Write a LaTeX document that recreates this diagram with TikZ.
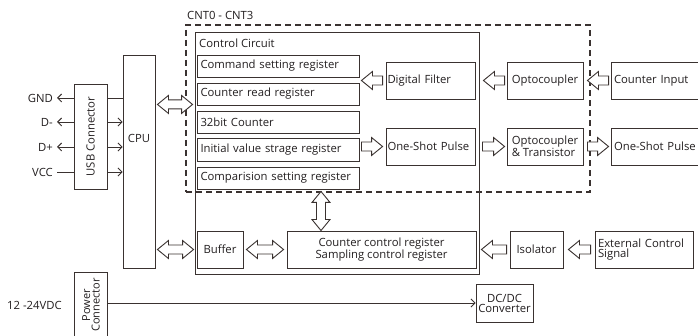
\documentclass[tikz,border=0pt]{standalone}
\usepackage{fontspec}
\setmainfont{Open Sans}
\usetikzlibrary{calc,arrows.meta}
\definecolor{lc}{RGB}{58,50,48}
\definecolor{tc}{RGB}{35,31,32}
\def\bahl{11pt}\def\bahw{9pt}\def\basw{4.5pt}
% single hollow arrow: #1 tip, #2 tail
\newcommand\sarr[2]{%
  \coordinate (hA) at #1; \coordinate (hB) at #2;
  \coordinate (hH) at ($(hA)!\bahl!(hB)$);
  \draw[blk] (hA) -- ($(hH)!\bahw!90:(hB)$) -- ($(hH)!\basw!90:(hB)$)
    -- ($(hB)!\basw!-90:(hA)$) -- ($(hB)!\basw!90:(hA)$)
    -- ($(hH)!\basw!-90:(hB)$) -- ($(hH)!\bahw!-90:(hB)$) -- cycle;}
% double hollow arrow between #1 and #2
\newcommand\darr[2]{%
  \coordinate (dA) at #1; \coordinate (dB) at #2;
  \coordinate (dH1) at ($(dA)!\bahl!(dB)$); \coordinate (dH2) at ($(dB)!\bahl!(dA)$);
  \draw[blk] (dA) -- ($(dH1)!\bahw!90:(dB)$) -- ($(dH1)!\basw!90:(dB)$)
    -- ($(dH2)!\basw!-90:(dA)$) -- ($(dH2)!\bahw!-90:(dA)$) -- (dB)
    -- ($(dH2)!\bahw!90:(dA)$) -- ($(dH2)!\basw!90:(dA)$)
    -- ($(dH1)!\basw!-90:(dB)$) -- ($(dH1)!\bahw!-90:(dB)$) -- cycle;}
\begin{document}
\begin{tikzpicture}[x=1pt,y=-1pt, font=\fontsize{11.3}{10}\selectfont, text=tc,
  bx/.style={draw=lc, line width=0.9pt, inner sep=0pt, minimum height=37pt},
  reg/.style={bx, minimum height=22pt, text width=155pt, inner xsep=3.5pt, align=left},
  blk/.style={draw=lc, line width=0.9pt, fill=white, line join=miter},
  wire/.style={draw=lc, line width=0.9pt},
  barb/.style={-{Straight Barb[length=4pt,width=8pt]}}]
\useasboundingbox (0,0) rectangle (698,336);
\clip (0,0) rectangle (698,336);
\fill[white] (0,0) rectangle (698,336);

% outer dashed group and control circuit
\node[draw=lc, line width=1.1pt, dash pattern=on 6pt off 4pt, minimum width=404pt, minimum height=167pt, inner sep=0pt] (grp) at (388,108.5) {};
\node[anchor=west, inner sep=0pt] (grplbl) at (187,15) {CNT0 - CNT3};
\node[bx, minimum width=284pt, minimum height=242pt] (ctrl) at (337,153) {};
\node[anchor=west, inner sep=0pt] (ctrllbl) at (199,43) {Control Circuit};

% registers
\node[reg] (cmd) at (278,66) {Command setting register};
\node[reg] (crd) at (278,94) {Counter read register};
\node[reg] (cnt) at (278,122) {32bit Counter};
\node[reg, minimum height=23pt] (ini) at (278,149.5) {Initial value strage register};
\node[reg] (cmp) at (278,178) {Comparision setting register};

% inner blocks
\node[bx, text width=86pt, inner xsep=1.5pt, align=left] (dfilt) at (430.5,80.5) {Digital Filter};
\node[bx, text width=86pt, inner xsep=1.5pt, align=left] (osp1) at (430.5,146.5) {One-Shot Pulse};
\node[bx, minimum width=76pt] (opto) at (545,80.5) {Optocoupler};
\node[bx, minimum width=76pt, align=left] (optr) at (545,146.5) {Optocoupler\\\& Transistor};
\node[bx, text width=88pt, inner xsep=3pt, align=left] (cin) at (658,80.5) {Counter Input};
\node[bx, text width=88pt, inner xsep=3pt, align=left] (osp2) at (658,146.5) {One-Shot Pulse};

\node[bx, minimum width=46pt] (buf) at (220,249.5) {Buffer};
\node[bx, minimum width=189pt, align=center] (ccr) at (381.5,249.5) {Counter control register\\Sampling control register};
\node[bx, minimum width=53pt] (iso) at (536.5,249.5) {Isolator};
\node[bx, text width=92pt, inner xsep=3pt, align=left] (ecs) at (644,249.5) {External Control\\Signal};

% CPU and USB
\node[bx, minimum width=32pt, minimum height=213pt] (cpu) at (139,161.5) {};
\node (cpulbl) at (139,138) {CPU};
\node[bx, minimum width=33pt, minimum height=105pt] (usb) at (90.5,136.5) {};
\node[rotate=90] (usblbl) at (usb.center) {USB Connector};

\node[anchor=east, inner sep=0pt] (gnd) at (53,98) {GND};
\node[anchor=east, inner sep=0pt] (dm) at (53,122) {D-};
\node[anchor=east, inner sep=0pt] (dp) at (53,147) {D+};
\node[anchor=east, inner sep=0pt] (vcc) at (53,172) {VCC};

\draw[wire, barb] (usb.west |- gnd) -- ($(gnd.east)+(4,0)$);
\draw[wire, barb] (usb.west |- dm) -- ($(dm.east)+(4,0)$);
\draw[wire, barb] (usb.west |- dp) -- ($(dp.east)+(4,0)$);
\draw[wire] ($(vcc.east)+(4,0)$) -- (usb.west |- vcc);
\draw[wire] (usb.east |- gnd) -- (cpu.west |- gnd);
\draw[wire, barb] (usb.east |- dm) -- (cpu.west |- dm);
\draw[wire, barb] (usb.east |- dp) -- (cpu.west |- dp);
\draw[wire, barb] (usb.east |- vcc) -- (cpu.west |- vcc);

% power
\node[bx, minimum width=33pt, minimum height=73pt] (pwr) at (90.5,308.5) {};
\node[rotate=90, align=center, font=\fontsize{11}{9.5}\selectfont] (pwrlbl) at (91,305) {Power\\Connector};
\node[anchor=west, inner sep=0pt] (v12) at (7,305) {12 -24VDC};
\node[bx, minimum width=57pt, minimum height=38pt, align=center] (dcdc) at (504.5,303) {DC/DC\\Converter};
\draw[wire, line width=0.8pt, barb] (pwr.east |- dcdc.west) -- (dcdc.west);

% hollow arrows
\darr{($(cpu.east |- crd.south)+(2,-1)$)}{($(ctrl.west |- crd.south)+(-2,-1)$)}
\sarr{($(cmd.east |- dfilt.west)+(2,0)$)}{($(dfilt.west)+(-3,0)$)}
\sarr{($(osp1.west)+(-3,0)$)}{($(ini.east |- osp1.west)+(2,0)$)}
\sarr{($(dfilt.east)+(8,0)$)}{($(opto.west)+(-2,0)$)}
\sarr{($(opto.east)+(4,0)$)}{($(cin.west)+(-2,0)$)}
\sarr{($(optr.west)+(-2,0)$)}{($(osp1.east)+(7,0)$)}
\sarr{($(osp2.west)+(-2,0)$)}{($(optr.east)+(4,0)$)}
\darr{([xshift=43pt,yshift=-2pt]cmp.south)}{([xshift=43pt]cmp.south |- ccr.north)}
\darr{($(buf.east)+(3,0)$)}{($(ccr.west)+(-3,0)$)}
\darr{($(cpu.east |- buf.west)+(2,0)$)}{($(buf.west)+(-3,0)$)}
\sarr{($(ccr.east)+(5,0)$)}{($(iso.west)+(-3,0)$)}
\sarr{($(iso.east)+(5,0)$)}{($(ecs.west)+(-4,0)$)}
\end{tikzpicture}
\end{document}
